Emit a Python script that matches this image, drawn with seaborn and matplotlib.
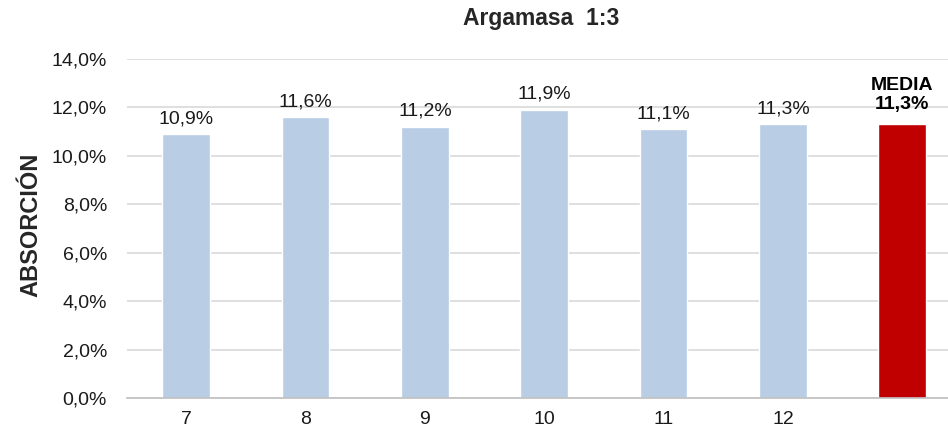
import matplotlib
matplotlib.use('Agg')
import matplotlib.pyplot as plt
import seaborn as sns

# datos del gráfico
categorias = ['7', '8', '9', '10', '11', '12', 'MEDIA']
absorcion = [10.9, 11.6, 11.2, 11.9, 11.1, 11.3, 11.3]
etiquetas_x = ['7', '8', '9', '10', '11', '12', '']
colores = ['#B9CDE5'] * 6 + ['#C00000']

sns.set_style('white')
plt.rcParams['font.family'] = ['Liberation Sans', 'DejaVu Sans']

fig = plt.figure(figsize=(9.48, 4.34), dpi=100)
ax = fig.add_axes([126.5 / 948, 35.7 / 434, 835.5 / 948, 339.3 / 434])

valores = [v / 100 for v in absorcion]
sns.barplot(x=categorias, y=valores, hue=categorias, palette=colores,
            legend=False, width=0.4, saturation=1, ax=ax, zorder=3)

ax.set_ylim(0, 0.14)
ax.set_yticks([i * 0.02 for i in range(8)])
ax.set_yticklabels([f'{i * 2:.1f}%'.replace('.', ',') for i in range(8)],
                   fontsize=14, color='#1a1a1a')
ax.set_xticks(range(len(categorias)))
ax.set_xticklabels(etiquetas_x, fontsize=14, color='#1a1a1a')
ax.tick_params(axis='y', length=0, pad=14)
ax.tick_params(axis='x', length=0, pad=9)

ax.grid(axis='y', color='#D9D9D9', linewidth=1.2, zorder=0)
for lado in ['top', 'right', 'left']:
    ax.spines[lado].set_visible(False)
ax.spines['bottom'].set_color('#BFBFBF')
ax.spines['bottom'].set_linewidth(1.2)
ax.spines['bottom'].set_zorder(4)

# etiquetas de los valores
for i, v in enumerate(absorcion):
    txt = f'{v:.1f}%'.replace('.', ',')
    if categorias[i] == 'MEDIA':
        ax.annotate('MEDIA\n' + txt, (i, v / 100), xytext=(0, 8),
                    textcoords='offset points', ha='center', va='bottom',
                    fontsize=14, fontweight='bold', color='black',
                    linespacing=1.15)
    else:
        ax.annotate(txt, (i, v / 100), xytext=(0, 5),
                    textcoords='offset points', ha='center', va='bottom',
                    fontsize=14, color='#1a1a1a')

ax.set_ylabel('ABSORCIÓN', fontsize=17, fontweight='bold')
ax.yaxis.set_label_coords(-0.101, 0.51)
fig.text(541 / 948, 1 - 18 / 434, 'Argamasa  1:3', ha='center', va='center',
         fontsize=16.5, fontweight='bold')

fig.savefig('out.png', dpi=100)
